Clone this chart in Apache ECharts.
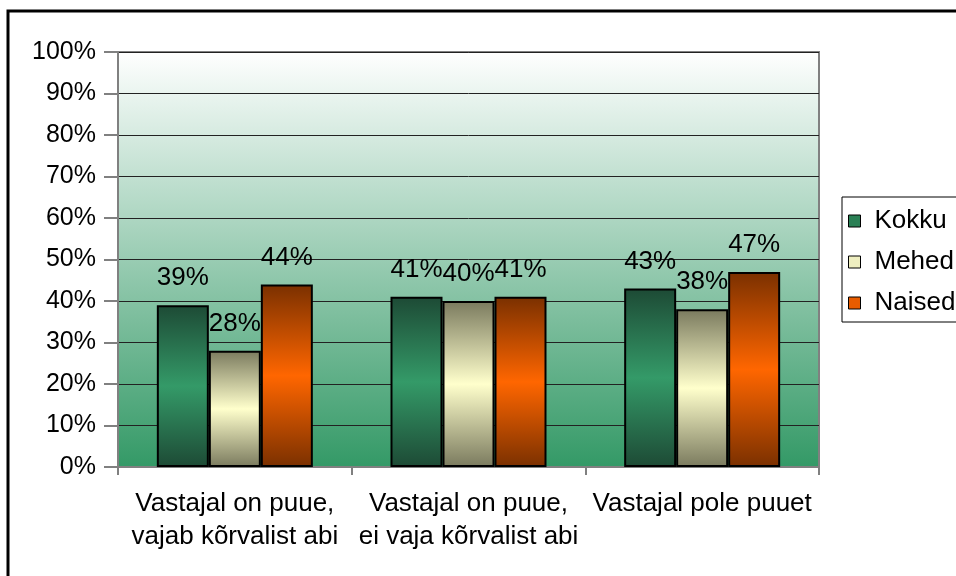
<!DOCTYPE html>
<html>
<head>
<meta charset="utf-8">
<script src="https://cdn.jsdelivr.net/npm/echarts@6/dist/echarts.min.js"></script>
<style>
  html, body { margin: 0; padding: 0; background: #fff; }
  #chart { width: 956px; height: 576px; }
</style>
</head>
<body>
<div id="chart"></div>
<script>
const categories = ['Vastajal on puue,\nvajab kõrvalist abi', 'Vastajal on puue,\nei vaja kõrvalist abi', 'Vastajal pole puuet']
const kokku = [39, 41, 43]
const mehed = [28, 40, 38]
const naised = [44, 41, 47]
const yTicks = [0, 10, 20, 30, 40, 50, 60, 70, 80, 90, 100]

const font = 'Liberation Sans, Arial, sans-serif'

function barGrad(edge, mid) {
  return new echarts.graphic.LinearGradient(0, 0, 0, 1, [
    { offset: 0, color: edge },
    { offset: 0.5, color: mid },
    { offset: 1, color: edge }
  ])
}

function makeSeries(name, data, edge, mid) {
  return {
    name: name,
    type: 'bar',
    data: data,
    barWidth: 52,
    barGap: '0%',
    itemStyle: { color: barGrad(edge, mid), borderColor: '#000', borderWidth: 2 },
    label: {
      show: true,
      position: 'top',
      distance: 14,
      formatter: '{c}%',
      color: '#000',
      fontSize: 26,
      fontFamily: font
    }
  }
}

let myChart = echarts.init(document.getElementById('chart'))
myChart.setOption({
  animation: false,
  grid: {
    left: 118, right: 137, top: 52, bottom: 109,
    show: true,
    borderColor: '#808080',
    borderWidth: 2,
    backgroundColor: new echarts.graphic.LinearGradient(0, 0, 0, 1, [
      { offset: 0, color: '#ffffff' },
      { offset: 1, color: '#339966' }
    ])
  },
  legend: {
    orient: 'vertical',
    left: 842,
    top: 197,
    icon: 'rect',
    itemWidth: 12,
    itemHeight: 12,
    itemGap: 15,
    padding: [11, 30, 6, 6],
    borderColor: '#000',
    borderWidth: 1,
    backgroundColor: '#fff',
    textStyle: { fontSize: 26, fontFamily: font, color: '#000', padding: [0, 0, 0, 9] },
    data: [
      { name: 'Kokku', itemStyle: { color: '#2a8055', borderColor: '#000', borderWidth: 1 } },
      { name: 'Mehed', itemStyle: { color: '#eeeec0', borderColor: '#000', borderWidth: 1 } },
      { name: 'Naised', itemStyle: { color: '#e85c00', borderColor: '#000', borderWidth: 1 } }
    ]
  },
  xAxis: {
    type: 'category',
    data: categories,
    axisLine: { lineStyle: { color: '#808080', width: 2 } },
    axisTick: { show: true, length: 8, lineStyle: { color: '#808080', width: 2 } },
    axisLabel: {
      interval: 0,
      hideOverlap: false,
      fontSize: 26, fontFamily: font, color: '#000', margin: 20, lineHeight: 33
    }
  },
  yAxis: {
    type: 'value',
    min: yTicks[0],
    max: yTicks[yTicks.length - 1],
    interval: 10,
    axisLine: { show: true, lineStyle: { color: '#808080', width: 2 } },
    axisTick: { show: true, length: 14, lineStyle: { color: '#808080', width: 2 } },
    axisLabel: { fontSize: 25, fontFamily: font, color: '#000', margin: 22, formatter: '{value}%' },
    splitLine: { lineStyle: { color: '#222', width: 1 } }
  },
  series: [
    makeSeries('Kokku', kokku, '#1d4a35', '#349a68'),
    makeSeries('Mehed', mehed, '#7a7a5e', '#ffffcc'),
    makeSeries('Naised', naised, '#7a3000', '#ff6600')
  ],
  graphic: [{
    type: 'rect',
    shape: { x: 8, y: 11, width: 1000, height: 600 },
    style: { fill: 'none', stroke: '#000', lineWidth: 3 },
    silent: true,
    z: 100
  }]
})
</script>
</body>
</html>
